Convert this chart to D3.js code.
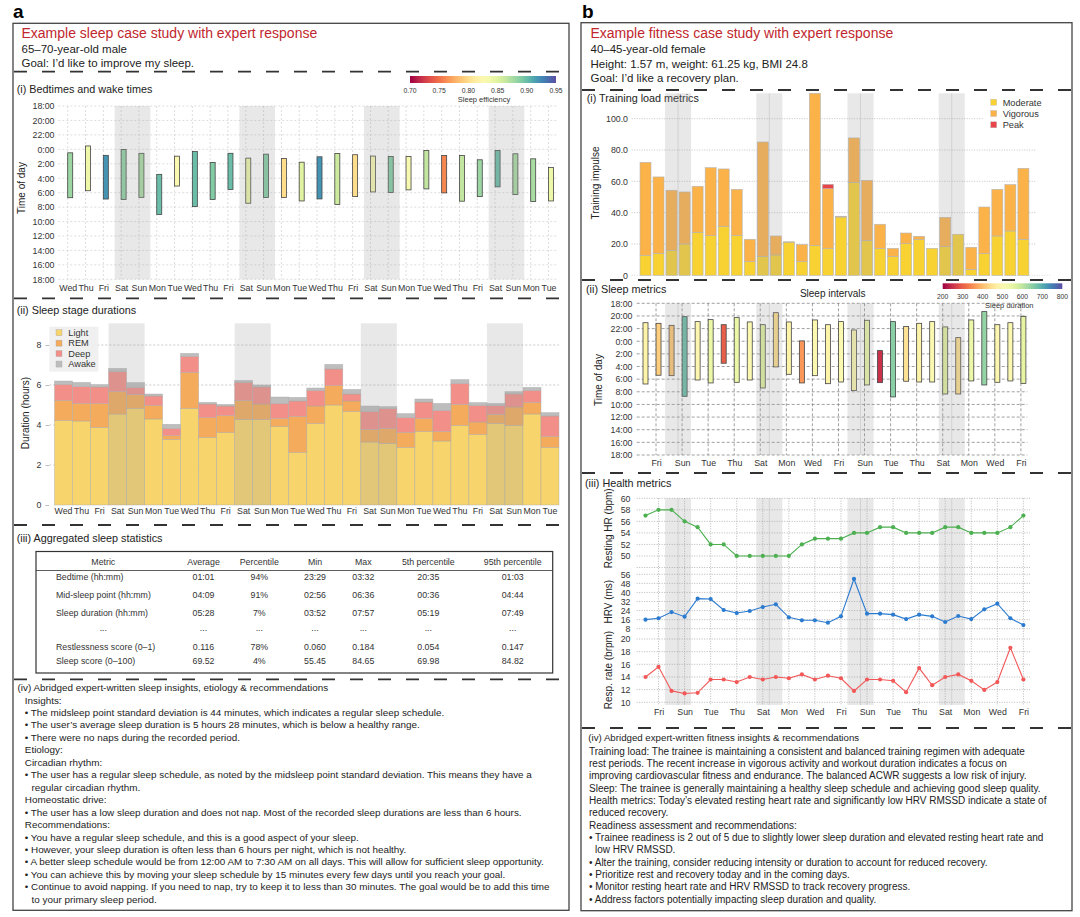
<!DOCTYPE html>
<html>
<head>
<meta charset="utf-8">
<script src="https://cdn.jsdelivr.net/npm/d3@7"></script>
<style>
    body { margin: 0; background: #fff; }
    svg { font-family: "Liberation Sans", Arial, sans-serif; }
</style>
</head>
<body>
<svg id="fig" width="1080" height="917"></svg>
<script>
// ---------- (a) sleep case study data ----------
var sleepDays = ["Wed", "Thu", "Fri", "Sat", "Sun", "Mon", "Tue",
    "Wed", "Thu", "Fri", "Sat", "Sun", "Mon", "Tue",
    "Wed", "Thu", "Fri", "Sat", "Sun", "Mon", "Tue",
    "Wed", "Thu", "Fri", "Sat", "Sun", "Mon", "Tue"];
var bedtimes = ["00:29", "23:32", "00:50", "00:02", "00:33", "03:28", "00:57", "00:18", "01:49", "00:33",
    "01:13", "00:40", "01:16", "01:47", "01:02", "00:34", "00:45", "00:56", "00:59", "00:59",
    "00:09", "00:51", "00:51", "01:27", "00:09", "00:37", "01:19", "02:31"];
var waketimes = ["06:42", "05:44", "06:53", "06:56", "06:39", "09:01", "05:05", "07:56", "06:56", "05:33",
    "07:28", "06:41", "06:41", "07:09", "06:52", "07:39", "06:33", "05:54", "05:59", "05:37",
    "05:29", "06:02", "07:11", "06:33", "05:12", "06:16", "07:14", "07:09"];
var efficiency = [0.88, 0.84, 0.92, 0.885, 0.875, 0.90, 0.825, 0.90, 0.89, 0.90,
    0.84, 0.89, 0.80, 0.85, 0.92, 0.86, 0.80, 0.83, 0.89, 0.83,
    0.865, 0.76, 0.865, 0.88, 0.90, 0.875, 0.875, 0.84];

// sleep stages, hours
var lightHrs = [4.23, 4.20, 3.88, 4.55, 4.82, 4.30, 3.28, 4.83, 3.37, 3.62, 4.28, 4.27, 3.92, 2.63,
    4.07, 5.00, 4.67, 3.15, 3.08, 2.88, 3.67, 3.20, 3.98, 3.53, 4.08, 3.98, 4.55, 2.88];
var remHrs = [1.00, 0.88, 1.19, 1.12, 0.70, 0.68, 0.19, 1.80, 1.00, 0.85, 0.94, 0.78, 0.40, 1.80,
    0.88, 0.97, 0.53, 0.62, 0.74, 0.75, 0.65, 0.48, 1.05, 0.62, 0.45, 0.92, 0.58, 0.55];
var deepHrs = [0.80, 0.84, 0.83, 1.00, 0.36, 0.47, 0.36, 0.80, 0.68, 0.48, 0.91, 0.85, 0.76, 0.77,
    0.78, 0.83, 0.35, 0.91, 1.00, 0.74, 0.83, 1.05, 1.05, 0.83, 0.44, 0.65, 0.60, 1.02];
var awakeHrs = [0.17, 0.21, 0.12, 0.16, 0.24, 0.10, 0.20, 0.15, 0.08, 0.08, 0.10, 0.10, 0.32, 0.18,
    0.12, 0.23, 0.23, 0.27, 0.10, 0.20, 0.15, 0.35, 0.19, 0.14, 0.11, 0.12, 0.15, 0.17];
var stageNames = ["Light", "REM", "Deep", "Awake"];

// aggregated statistics table
var statHeader = ["Metric", "Average", "Percentile", "Min", "Max", "5th percentile", "95th percentile"];
var statMetric = ["Bedtime (hh:mm)", "Mid-sleep point (hh:mm)", "Sleep duration (hh:mm)", "...", "Restlessness score (0–1)", "Sleep score (0–100)"];
var statAverage = ["01:01", "04:09", "05:28", "...", "0.116", "69.52"];
var statPercentile = ["94%", "91%", "7%", "...", "78%", "4%"];
var statMin = ["23:29", "02:56", "03:52", "...", "0.060", "55.45"];
var statMax = ["03:32", "06:36", "07:57", "...", "0.184", "84.65"];
var stat5th = ["20:35", "00:36", "05:19", "...", "0.054", "69.98"];
var stat95th = ["01:03", "04:44", "07:49", "...", "0.147", "84.82"];

var sleepNotes = [
    "(iv) Abridged expert-written sleep insights, etiology & recommendations",
    "Insights:",
    "• The midsleep point standard deviation is 44 minutes, which indicates a regular sleep schedule.",
    "• The user’s average sleep duration is 5 hours 28 minutes, which is below a healthy range.",
    "• There were no naps during the recorded period.",
    "Etiology:",
    "Circadian rhythm:",
    "• The user has a regular sleep schedule, as noted by the midsleep point standard deviation. This means they have a",
    "  regular circadian rhythm.",
    "Homeostatic drive:",
    "• The user has a low sleep duration and does not nap. Most of the recorded sleep durations are less than 6 hours.",
    "Recommendations:",
    "• You have a regular sleep schedule, and this is a good aspect of your sleep.",
    "• However, your sleep duration is often less than 6 hours per night, which is not healthy.",
    "• A better sleep schedule would be from 12:00 AM to 7:30 AM on all days. This will allow for sufficient sleep opportunity.",
    "• You can achieve this by moving your sleep schedule by 15 minutes every few days until you reach your goal.",
    "• Continue to avoid napping. If you need to nap, try to keep it to less than 30 minutes. The goal would be to add this time",
    "  to your primary sleep period."
];

// ---------- (b) fitness case study data ----------
var fitDays = ["Thu", "Fri", "Sat", "Sun", "Mon", "Tue", "Wed",
    "Thu", "Fri", "Sat", "Sun", "Mon", "Tue", "Wed",
    "Thu", "Fri", "Sat", "Sun", "Mon", "Tue", "Wed",
    "Thu", "Fri", "Sat", "Sun", "Mon", "Tue", "Wed",
    "Thu", "Fri"];
var moderate = [12.8, 14.0, 16.0, 20.0, 27.4, 25.3, 31.3, 25.5, 8.9, 12.1, 13.0, 21.1, 8.9, 19.1, 17.2,
    37.2, 59.4, 22.3, 17.2, 12.1, 20.2, 23.0, 17.2, 18.3, 26.2, 3.8, 13.8, 25.1, 28.3, 23.0];
var vigorous = [59.3, 48.8, 38.3, 33.2, 29.4, 43.4, 36.6, 29.4, 14.1, 73.0, 12.1, 0.3, 10.7, 97.1, 38.1,
    0.5, 28.3, 38.3, 15.4, 5.1, 6.8, 1.9, 0.0, 18.7, 0.0, 14.1, 29.8, 29.8, 29.6, 45.3];
var peak = [0, 0, 0, 0, 0, 0, 0, 0, 0, 0, 0, 0, 0, 0, 2.8,
    0, 0, 0, 0, 0, 0, 0, 0, 0, 0, 0, 0, 0, 0, 0];
var loadNames = ["Moderate", "Vigorous", "Peak"];

var fitBed = ["21:04", "21:10", "21:29", "20:07", "20:54", "20:35", "21:23", "20:16", "20:57", "21:23",
    "19:29", "20:57", "23:57", "20:38", "21:23", "20:54", "22:13", "20:41", "01:29", "20:54",
    "21:41", "21:10", "20:54", "21:44", "23:26", "20:38", "19:19", "21:23", "21:04", "20:04"];
var fitWake = ["06:46", "05:23", "05:27", "08:43", "06:08", "06:36", "03:29", "06:30", "06:08", "07:24",
    "04:04", "05:14", "06:36", "05:27", "06:43", "06:27", "07:49", "06:55", "06:33", "08:49",
    "06:20", "06:27", "06:27", "08:21", "08:21", "06:17", "06:55", "06:30", "06:17", "06:40"];
var fitSleepMin = [480, 420, 410, 680, 490, 540, 300, 540, 500, 560, 440, 480, 360, 500, 480,
    500, 490, 540, 250, 650, 450, 480, 500, 560, 440, 540, 640, 490, 500, 550];

var restHR = [57, 58, 58, 56, 55, 52, 52, 50, 50, 50, 50, 50, 52, 53, 53, 53, 54, 54, 55, 55,
    54, 54, 54, 55, 55, 54, 54, 54, 55, 57];
var hrv = [16, 17.2, 22.7, 18.6, 34.5, 34.2, 24.5, 21.8, 23.6, 27.1, 29.5, 18, 15.4, 15.4, 13.3,
    18.9, 51.9, 21.3, 21.3, 20.4, 16.5, 20.4, 18.9, 13.9, 19.2, 16.5, 25.1, 30.1, 17.2, 11.2];
var resp = [14, 15.6, 11.8, 11.4, 11.5, 13.6, 13.6, 13.2, 14, 13.6, 14, 13.8, 14.4, 13.6, 14.2,
    13.8, 11.8, 13.6, 13.6, 13.4, 11.6, 15.4, 12.7, 14, 14.4, 13.4, 11.95, 13.2, 18.6, 13.6];

var fitnessNotes = [
    "Training load: The trainee is maintaining a consistent and balanced training regimen with adequate",
    "rest periods. The recent increase in vigorous activity and workout duration indicates a focus on",
    "improving cardiovascular fitness and endurance. The balanced ACWR suggests a low risk of injury.",
    "Sleep: The trainee is generally maintaining a healthy sleep schedule and achieving good sleep quality.",
    "Health metrics: Today’s elevated resting heart rate and significantly low HRV RMSSD indicate a state of",
    "reduced recovery.",
    "Readiness assessment and recommendations:",
    "• Trainee readiness is 2 out of 5 due to slightly lower sleep duration and elevated resting heart rate and",
    "  low HRV RMSSD.",
    "• Alter the training, consider reducing intensity or duration to account for reduced recovery.",
    "• Prioritize rest and recovery today and in the coming days.",
    "• Monitor resting heart rate and HRV RMSSD to track recovery progress.",
    "• Address factors potentially impacting sleep duration and quality."
];

// ---------- helpers ----------
var svg = d3.select("#fig");
var ink = "#333";
var shadeFill = "#9e9e9e";

function toHours(t) {
    var p = t.split(":");
    return ((+p[0] - 18 + 24) % 24) + (+p[1]) / 60;
}

function hourLabel(h) {
    return ((h + 18) % 24) + ":00";
}

function addText(x, y, txt, size, opts) {
    opts = opts || {};
    return svg.append("text")
        .attr("x", x)
        .attr("y", y)
        .attr("font-size", size)
        .attr("fill", opts.fill || "#222")
        .attr("text-anchor", opts.anchor || "start")
        .attr("font-weight", opts.weight || null)
        .text(txt);
}

function addVertical(x, y, txt, size) {
    svg.append("text")
        .attr("transform", `translate(${x}, ${y}) rotate(-90)`)
        .attr("dy", "0.35em")
        .attr("text-anchor", "middle")
        .attr("font-size", size)
        .attr("fill", "#222")
        .text(txt);
}

function dashedRule(x1, x2, y) {
    svg.append("line")
        .attr("x1", x1).attr("x2", x2)
        .attr("y1", y).attr("y2", y)
        .attr("stroke", ink)
        .attr("stroke-width", 1.8)
        .attr("stroke-dasharray", "13,15");
}

function styleAxis(g, size) {
    g.select(".domain").remove();
    g.attr("font-family", null).attr("font-size", size);
    g.selectAll("text").attr("fill", "#333");
}

function colorbar(x0, x1, y, h, scale, ticks, fmt, title, titleX) {
    var id = "grad" + Math.round(x0);
    var grad = svg.append("defs").append("linearGradient").attr("id", id);
    d3.range(0, 1.001, 0.05).forEach(function (t) {
        grad.append("stop").attr("offset", t).attr("stop-color", d3.interpolateSpectral(t));
    });
    svg.append("rect")
        .attr("x", x0).attr("y", y)
        .attr("width", x1 - x0).attr("height", h)
        .attr("fill", `url(#${id})`);
    var cx = d3.scaleLinear().domain(scale.domain()).range([x0, x1]);
    svg.append("g").selectAll("text")
        .data(ticks)
        .enter()
        .append("text")
        .attr("x", d => cx(d))
        .attr("y", y + h + 10)
        .attr("text-anchor", "middle")
        .attr("font-size", 6.8)
        .attr("fill", "#333")
        .text(fmt);
    addText(titleX, y + h + 18.5, title, 7.5, { anchor: "middle", fill: "#333" });
}

// ---------- panel frames ----------
addText(13, 18, "a", 19, { weight: "bold", fill: "#000" });
addText(582, 17.5, "b", 19, { weight: "bold", fill: "#000" });

svg.append("rect").attr("x", 13).attr("y", 23.3).attr("width", 556).attr("height", 887)
    .attr("fill", "none").attr("stroke", "#444").attr("stroke-width", 1.3);
svg.append("rect").attr("x", 581).attr("y", 22.7).attr("width", 491).attr("height", 888)
    .attr("fill", "none").attr("stroke", "#444").attr("stroke-width", 1.3);

addText(21.5, 38.3, "Example sleep case study with expert response", 14, { fill: "#c1272d" });
addText(21.5, 52.7, "65–70-year-old male", 11.5);
addText(21.5, 66.7, "Goal: I’d like to improve my sleep.", 11.5);

addText(590.5, 38.3, "Example fitness case study with expert response", 14, { fill: "#c1272d" });
addText(590.5, 53.3, "40–45-year-old female", 11.5);
addText(590.5, 67.5, "Height: 1.57 m, weight: 61.25 kg, BMI 24.8", 11.5);
addText(590.5, 81.7, "Goal: I’d like a recovery plan.", 11.5);

dashedRule(14, 568, 71.7);
dashedRule(14, 568, 298.3);
dashedRule(14, 568, 525);
dashedRule(14, 568, 679.3);
dashedRule(582, 1071, 90);
dashedRule(582, 1071, 280);
dashedRule(582, 1071, 473);
dashedRule(582, 1071, 728);

// ---------- a(i) Bedtimes and wake times ----------
addText(16.7, 93.3, "(i) Bedtimes and wake times", 10.8);

var xBed = d3.scaleLinear().domain([0, 27]).range([67.7, 548.5]);
var yBed = d3.scaleLinear().domain([0, 24]).range([106, 279.3]);
var effColor = d3.scaleSequential(d3.interpolateSpectral).domain([0.70, 0.95]);
var hourTicks = d3.range(0, 25, 2);

var gridA = svg.append("g").attr("stroke", "#cfcfcf").attr("stroke-width", 0.7).attr("stroke-dasharray", "2,2");
gridA.selectAll(".h").data(hourTicks).enter().append("line")
    .attr("x1", 58.3).attr("x2", 556.6)
    .attr("y1", d => yBed(d)).attr("y2", d => yBed(d));
gridA.selectAll(".v").data(d3.range(28)).enter().append("line")
    .attr("x1", d => xBed(d)).attr("x2", d => xBed(d))
    .attr("y1", yBed(0)).attr("y2", yBed(24));

svg.append("g").selectAll("rect")
    .data(d3.range(28))
    .enter()
    .append("rect")
    .attr("x", d => xBed(d))
    .attr("y", d => yBed(toHours(bedtimes[d])))
    .attr("width", 5)
    .attr("height", d => yBed(toHours(waketimes[d])) - yBed(toHours(bedtimes[d])))
    .attr("fill", d => effColor(efficiency[d]))
    .attr("stroke", "#444")
    .attr("stroke-width", 0.8);

var weekendA = [[3, 4], [10, 11], [17, 18], [24, 25]];
var stepA = xBed(1) - xBed(0);
svg.append("g").selectAll("rect")
    .data(weekendA)
    .enter()
    .append("rect")
    .attr("x", d => xBed(d[0]) + 2.5 - stepA / 2)
    .attr("width", d => xBed(d[1]) - xBed(d[0]) + stepA)
    .attr("y", yBed(0))
    .attr("height", yBed(24) - yBed(0))
    .attr("fill", shadeFill)
    .attr("fill-opacity", 0.24);

svg.append("g")
    .attr("transform", "translate(56.5, 0)")
    .call(d3.axisLeft(yBed).tickValues(hourTicks).tickFormat(hourLabel).tickSize(0).tickPadding(2))
    .call(g => styleAxis(g, 8.8));

svg.append("g")
    .attr("transform", `translate(0, ${yBed(24) + 4})`)
    .call(d3.axisBottom(xBed).tickValues(d3.range(28)).tickFormat(i => sleepDays[i]).tickSize(0).tickPadding(1))
    .call(g => styleAxis(g, 8.8));

addVertical(21.7, 188, "Time of day", 10);
colorbar(410, 556, 76, 7, effColor, [0.70, 0.75, 0.80, 0.85, 0.90, 0.95], d => d.toFixed(2), "Sleep efficiency", 484);

// ---------- a(ii) Sleep stage durations ----------
addText(16.7, 314, "(ii) Sleep stage durations", 10.8);

var xStage = d3.scaleBand().domain(d3.range(28)).range([54.5, 559]).padding(0);
var yStage = d3.scaleLinear().domain([0, 9.085]).range([505, 323.3]);
var stageColor = d3.scaleOrdinal().domain(stageNames).range(["#f7d46c", "#f4ab5b", "#f28f88", "#bdbdbd"]);

var stageRows = d3.range(28).map(i => ({
    idx: i, Light: lightHrs[i], REM: remHrs[i], Deep: deepHrs[i], Awake: awakeHrs[i]
}));
var stacked = d3.stack().keys(stageNames)(stageRows);

svg.append("g").selectAll("line")
    .data([2, 4, 6, 8])
    .enter()
    .append("line")
    .attr("x1", 49.3).attr("x2", 559)
    .attr("y1", d => yStage(d)).attr("y2", d => yStage(d))
    .attr("stroke", "#bbb").attr("stroke-width", 0.8).attr("stroke-dasharray", "2,2");

svg.append("g").selectAll("g")
    .data(stacked)
    .enter()
    .append("g")
    .attr("fill", d => stageColor(d.key))
    .selectAll("rect")
    .data(d => d)
    .enter()
    .append("rect")
    .attr("x", d => xStage(d.data.idx))
    .attr("width", xStage.bandwidth())
    .attr("y", d => yStage(d[1]))
    .attr("height", d => yStage(d[0]) - yStage(d[1]))
    .attr("stroke", "#a9a9a9")
    .attr("stroke-opacity", 0.7)
    .attr("stroke-width", 0.6);

svg.append("g").selectAll("rect")
    .data(weekendA)
    .enter()
    .append("rect")
    .attr("x", d => xStage(d[0]))
    .attr("width", d => xStage(d[1]) - xStage(d[0]) + xStage.bandwidth())
    .attr("y", yStage(9.085))
    .attr("height", yStage(0) - yStage(9.085))
    .attr("fill", shadeFill)
    .attr("fill-opacity", 0.24);

svg.append("g")
    .attr("transform", "translate(49, 0)")
    .call(d3.axisLeft(yStage).tickValues([0, 2, 4, 6, 8]).tickSize(3.5).tickPadding(4))
    .call(g => styleAxis(g, 8.8))
    .call(g => g.selectAll("line").attr("stroke", "#bbb"));

svg.append("g")
    .attr("transform", `translate(0, ${yStage(0) + 2})`)
    .call(d3.axisBottom(xStage).tickFormat(i => sleepDays[i]).tickSize(0).tickPadding(1))
    .call(g => styleAxis(g, 8.8));

addVertical(25, 413, "Duration (hours)", 10);

// Legend
svg.append("rect").attr("x", 49.3).attr("y", 326.7).attr("width", 49).attr("height", 45)
    .attr("fill", "#eeeeee").attr("fill-opacity", 0.9);
var legA = svg.append("g").selectAll("g")
    .data(stageNames)
    .enter()
    .append("g")
    .attr("transform", (d, i) => `translate(56, ${336 + i * 10.45})`);
legA.append("rect").attr("y", -6.3).attr("width", 6).attr("height", 6)
    .attr("fill", d => stageColor(d)).attr("stroke", "#aaa").attr("stroke-width", 0.4);
legA.append("text").attr("x", 12.3).attr("font-size", 9.2).attr("fill", "#333").text(d => d);

// ---------- a(iii) Aggregated sleep statistics ----------
addText(16.7, 541.7, "(iii) Aggregated sleep statistics", 10.8);

svg.append("rect").attr("x", 36).attr("y", 551.5).attr("width", 516.7).attr("height", 121.5)
    .attr("fill", "none").attr("stroke", ink).attr("stroke-width", 1.2);
svg.append("line").attr("x1", 36).attr("x2", 552.7).attr("y1", 570.5).attr("y2", 570.5)
    .attr("stroke", ink).attr("stroke-width", 0.8);

var colX = [103.3, 203.5, 259.3, 315, 363.3, 428.3, 512.7];
var rowY = [579.6, 597.5, 615.6, 631, 649.5, 663.5];
var statCols = [statAverage, statPercentile, statMin, statMax, stat5th, stat95th];

statHeader.forEach(function (h, i) {
    addText(colX[i], 564.5, h, 8.8, { anchor: "middle", fill: "#333" });
});
statMetric.forEach(function (m, r) {
    addText(m === "..." ? 103.3 : 56, rowY[r], m, 8.8, { anchor: m === "..." ? "middle" : "start", fill: "#333" });
    statCols.forEach(function (col, c) {
        addText(colX[c + 1], rowY[r], col[r], 8.8, { anchor: "middle", fill: "#333" });
    });
});

// ---------- a(iv) notes ----------
sleepNotes.forEach(function (line, i) {
    var x = i === 0 ? 17.5 : (line.startsWith("  ") ? 31.5 : 24.8);
    addText(x, 691.1 + i * 12.45, line.trim(), 9.9);
});

// ---------- b(i) Training load metrics ----------
addText(586.7, 101.7, "(i) Training load metrics", 10.8);

var xFit = d3.scaleLinear().domain([0, 29]).range([645.5, 1023.4]);
var stepB = xFit(1) - xFit(0);
var weekendB = [[2, 3], [9, 10], [16, 17], [23, 24]];
var yLoad = d3.scaleLinear().domain([0, 116.2]).range([275.3, 93.3]);
var loadColor = d3.scaleOrdinal().domain(loadNames).range(["#f8d232", "#fbb249", "#e8454b"]);

svg.append("g").selectAll("line")
    .data([20, 40, 60, 80, 100])
    .enter()
    .append("line")
    .attr("x1", 631.7).attr("x2", 1036.7)
    .attr("y1", d => yLoad(d)).attr("y2", d => yLoad(d))
    .attr("stroke", "#aaa").attr("stroke-width", 0.7).attr("stroke-dasharray", "1,1.5");
svg.append("line").attr("x1", 631.7).attr("x2", 1050).attr("y1", yLoad(0)).attr("y2", yLoad(0))
    .attr("stroke", "#ccc").attr("stroke-width", 0.7).attr("stroke-dasharray", "1,1.5");

var loadRows = d3.range(30).map(i => ({ idx: i, Moderate: moderate[i], Vigorous: vigorous[i], Peak: peak[i] }));
var loadStack = d3.stack().keys(loadNames)(loadRows);

svg.append("g").selectAll("g")
    .data(loadStack)
    .enter()
    .append("g")
    .attr("fill", d => loadColor(d.key))
    .selectAll("rect")
    .data(d => d.filter(s => s[1] - s[0] > 0))
    .enter()
    .append("rect")
    .attr("x", d => xFit(d.data.idx) - 5.5)
    .attr("width", 11)
    .attr("y", d => yLoad(d[1]))
    .attr("height", d => yLoad(d[0]) - yLoad(d[1]))
    .attr("stroke", "#b5b5b5")
    .attr("stroke-width", 0.6);

function weekendShade(y0, y1) {
    var g = svg.append("g");
    g.selectAll("rect")
        .data(weekendB)
        .enter()
        .append("rect")
        .attr("x", d => xFit(d[0]) - stepB / 2)
        .attr("width", d => xFit(d[1]) - xFit(d[0]) + stepB)
        .attr("y", y0)
        .attr("height", y1 - y0)
        .attr("fill", shadeFill)
        .attr("fill-opacity", 0.24);
    g.selectAll("line")
        .data(weekendB)
        .enter()
        .append("line")
        .attr("x1", d => xFit(d[0]) + stepB / 2).attr("x2", d => xFit(d[0]) + stepB / 2)
        .attr("y1", y0).attr("y2", y1)
        .attr("stroke", "#9a9a9a").attr("stroke-opacity", 0.35).attr("stroke-width", 0.8);
}
weekendShade(yLoad(116.2), yLoad(0));

svg.append("g")
    .attr("transform", "translate(630, 0)")
    .call(d3.axisLeft(yLoad).tickValues([0, 20, 40, 60, 80, 100]).tickFormat(d => d === 0 ? "0" : d.toFixed(1)).tickSize(0).tickPadding(2))
    .call(g => styleAxis(g, 8.8));

addVertical(595, 183, "Training impulse", 10);

svg.append("rect").attr("x", 983).attr("y", 96).attr("width", 62).attr("height", 35).attr("fill", "#fff");
var legB = svg.append("g").selectAll("g")
    .data(loadNames)
    .enter()
    .append("g")
    .attr("transform", (d, i) => `translate(990.7, ${105.5 + i * 11.3})`);
legB.append("rect").attr("y", -6.3).attr("width", 6).attr("height", 6)
    .attr("fill", d => loadColor(d)).attr("stroke", "#bbb").attr("stroke-width", 0.4);
legB.append("text").attr("x", 12).attr("font-size", 9.2).attr("fill", "#333").text(d => d);

// ---------- b(ii) Sleep metrics ----------
addText(586, 293.3, "(ii) Sleep metrics", 10.8);
addText(832.7, 296.5, "Sleep intervals", 10, { anchor: "middle" });

var yFitSleep = d3.scaleLinear().domain([0, 24]).range([303.3, 455]);
var durColor = d3.scaleSequential(d3.interpolateSpectral).domain([200, 800]);
var labelDays = d3.range(1, 30, 2);

var gridB = svg.append("g").attr("stroke", "#777").attr("stroke-width", 0.7).attr("stroke-dasharray", "3,2");
gridB.selectAll(".h").data(hourTicks).enter().append("line")
    .attr("x1", 636.7).attr("x2", 1027.3)
    .attr("y1", d => yFitSleep(d)).attr("y2", d => yFitSleep(d));
gridB.selectAll(".v").data(labelDays).enter().append("line")
    .attr("x1", d => xFit(d) - 2.5).attr("x2", d => xFit(d) - 2.5)
    .attr("y1", yFitSleep(0)).attr("y2", yFitSleep(24));

svg.append("g").selectAll("rect")
    .data(d3.range(30))
    .enter()
    .append("rect")
    .attr("x", d => xFit(d) - 2.5)
    .attr("y", d => yFitSleep(toHours(fitBed[d])))
    .attr("width", 5)
    .attr("height", d => yFitSleep(toHours(fitWake[d])) - yFitSleep(toHours(fitBed[d])))
    .attr("fill", d => durColor(fitSleepMin[d]))
    .attr("stroke", "#444")
    .attr("stroke-width", 0.8);

weekendShade(yFitSleep(0), yFitSleep(24));

svg.append("g")
    .attr("transform", "translate(634.5, 0)")
    .call(d3.axisLeft(yFitSleep).tickValues(hourTicks).tickFormat(hourLabel).tickSize(0).tickPadding(2))
    .call(g => styleAxis(g, 8.8));

svg.append("g")
    .attr("transform", `translate(-2.5, ${yFitSleep(24) + 3.5})`)
    .call(d3.axisBottom(xFit).tickValues(labelDays).tickFormat(i => fitDays[i]).tickSize(0).tickPadding(1))
    .call(g => styleAxis(g, 8.8));

addVertical(598.3, 380, "Time of day", 10);
colorbar(942.7, 1062.3, 283.3, 5.7, durColor, [200, 300, 400, 500, 600, 700, 800], d => d, "Sleep duration", 1009.3);

// ---------- b(iii) Health metrics ----------
addText(585, 487.3, "(iii) Health metrics", 10.8);

var yHR = d3.scaleLinear().domain([48, 60]).range([567.5, 498.3]);
var yHRV = d3.scaleLinear().domain([8, 56]).range([628.7, 574.3]);
var yResp = d3.scaleLinear().domain([10, 20]).range([702.3, 639]);

var metrics = [
    { values: restHR, y: yHR, grid: d3.range(48, 61, 2), ticks: d3.range(50, 61, 2), color: "#4caf50", title: "Resting HR (bpm)", ty: 528.3, tx: 608.3 },
    { values: hrv, y: yHRV, grid: d3.range(8, 57, 8), ticks: d3.range(8, 57, 8), color: "#2b7bd0", title: "HRV (ms)", ty: 601.7, tx: 608.3 },
    { values: resp, y: yResp, grid: d3.range(10, 21, 2), ticks: d3.range(10, 21, 2), color: "#f25858", title: "Resp. rate (brpm)", ty: 670, tx: 608.3 }
];

var gridC = svg.append("g").attr("stroke", "#999").attr("stroke-width", 0.7).attr("stroke-dasharray", "1,1.5");
metrics.forEach(function (m) {
    gridC.append("g").selectAll("line")
        .data(m.grid)
        .enter()
        .append("line")
        .attr("x1", 636.7).attr("x2", 1030)
        .attr("y1", d => m.y(d)).attr("y2", d => m.y(d));
});
gridC.append("g").selectAll("line")
    .data(labelDays)
    .enter()
    .append("line")
    .attr("x1", d => xFit(d)).attr("x2", d => xFit(d))
    .attr("y1", 498.3).attr("y2", 705);

weekendShade(498.3, 705);

metrics.forEach(function (m) {
    var line = d3.line().x((d, i) => xFit(i)).y(d => m.y(d));
    svg.append("path")
        .datum(m.values)
        .attr("d", line)
        .attr("fill", "none")
        .attr("stroke", m.color)
        .attr("stroke-width", 1.1);
    svg.append("g").selectAll("circle")
        .data(m.values)
        .enter()
        .append("circle")
        .attr("cx", (d, i) => xFit(i))
        .attr("cy", d => m.y(d))
        .attr("r", 2.1)
        .attr("fill", m.color);
    svg.append("g")
        .attr("transform", "translate(632.5, 0)")
        .call(d3.axisLeft(m.y).tickValues(m.ticks).tickSize(0).tickPadding(2))
        .call(g => styleAxis(g, 8.8));
    addVertical(m.tx, m.ty, m.title, 10);
});

svg.append("g")
    .attr("transform", "translate(0, 707.5)")
    .call(d3.axisBottom(xFit).tickValues(labelDays).tickFormat(i => fitDays[i]).tickSize(0).tickPadding(1))
    .call(g => styleAxis(g, 8.8));

// ---------- b(iv) notes ----------
addText(588.3, 740.7, "(iv) Abridged expert-written fitness insights & recommendations", 9.7);
fitnessNotes.forEach(function (line, i) {
    var x = line.startsWith("  ") ? 595 : 589;
    addText(x, 754.7 + i * 12.33, line.trim(), 10.0);
});
</script>
</body>
</html>
